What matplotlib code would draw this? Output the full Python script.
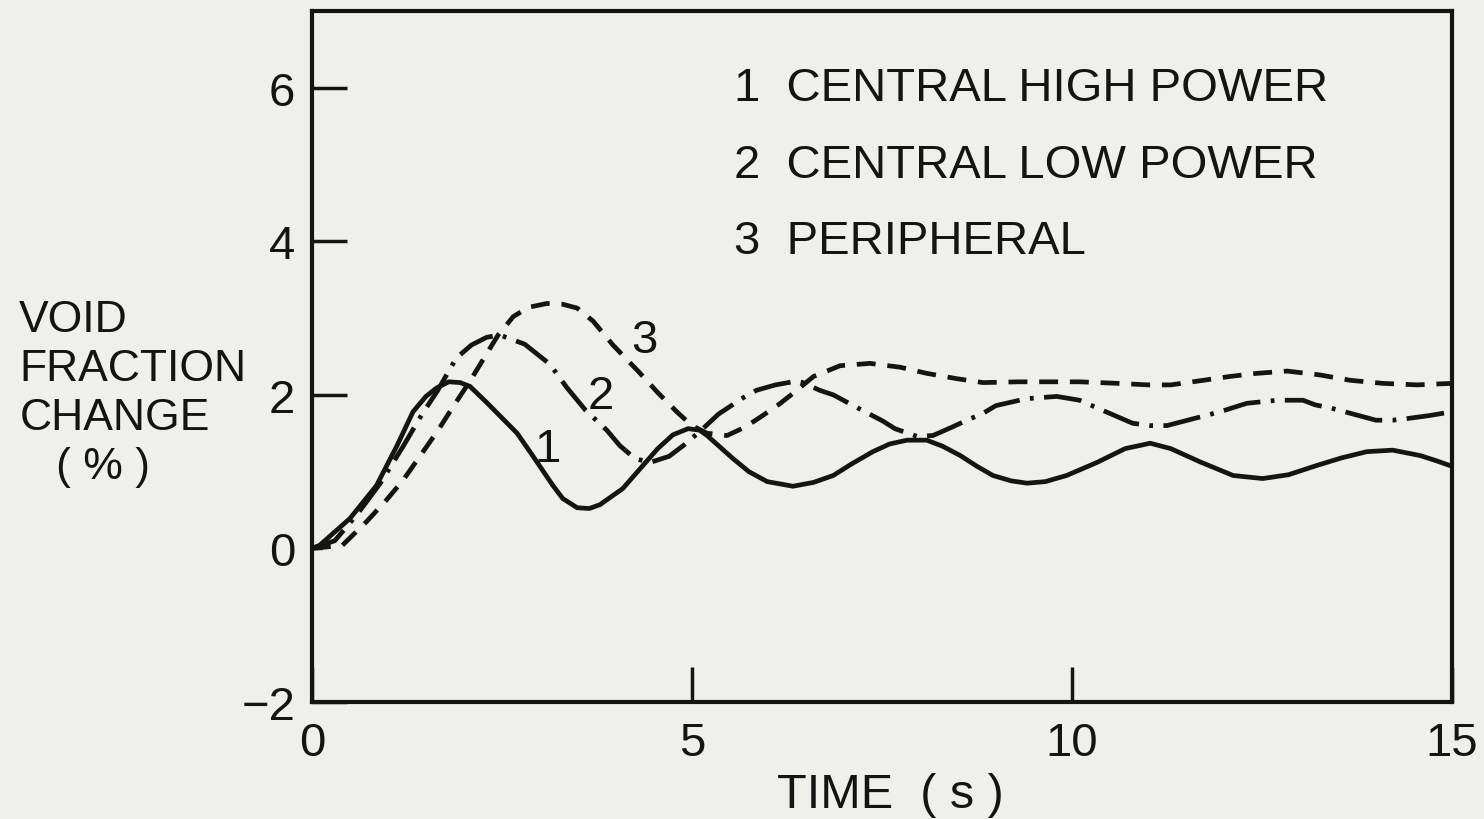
#! usr/bin/env python3
import numpy as np
import matplotlib.pyplot as plt

# curve 1 - central high power (solid)
t1 = [0, 0.1, 0.5, 0.85, 1.12, 1.33, 1.5, 1.64, 1.8, 1.95, 2.08, 2.3, 2.5, 2.7, 2.91,
      3.17, 3.3, 3.49, 3.65, 3.79, 4.09, 4.32, 4.55, 4.75, 4.95, 5.1, 5.2, 5.54, 5.75,
      5.99, 6.33, 6.6, 6.86, 7.1, 7.38, 7.6, 7.83, 8.09, 8.3, 8.53, 8.75, 8.96, 9.2,
      9.41, 9.65, 9.93, 10.33, 10.7, 11.03, 11.3, 11.68, 12.12, 12.51, 12.85, 13.22,
      13.55, 13.88, 14.22, 14.58, 14.8, 15.0]
v1 = [0, 0.04, 0.39, 0.82, 1.34, 1.78, 1.98, 2.09, 2.17, 2.16, 2.11, 1.9, 1.7, 1.5, 1.2,
      0.82, 0.65, 0.53, 0.52, 0.57, 0.78, 1.04, 1.3, 1.48, 1.56, 1.54, 1.47, 1.17, 1.0,
      0.87, 0.81, 0.86, 0.95, 1.1, 1.26, 1.36, 1.41, 1.41, 1.33, 1.21, 1.07, 0.95, 0.88,
      0.85, 0.87, 0.95, 1.12, 1.3, 1.37, 1.3, 1.13, 0.95, 0.91, 0.96, 1.08,
      1.18, 1.26, 1.28, 1.21, 1.14, 1.07]

# curve 2 - central low power (dash-dot)
t2 = [0, 0.3, 0.6, 0.9, 1.2, 1.45, 1.65, 1.9, 2.1, 2.3, 2.47, 2.8, 3.13, 3.35, 3.6,
      3.88, 4.05, 4.25, 4.45, 4.7, 4.9, 5.1, 5.35, 5.67, 5.85, 6.1, 6.38, 6.46, 6.68,
      6.86, 7.2, 7.51, 7.67, 7.96, 8.17, 8.4, 8.62, 8.83, 9.0, 9.4, 9.8, 10.1, 10.4,
      10.8, 11.03, 11.25, 11.6, 11.95, 12.14, 12.3, 12.7, 13.04, 13.2, 13.4, 13.7,
      14.0, 14.22, 14.4, 14.7, 15.0]
v2 = [0, 0.1, 0.45, 0.85, 1.33, 1.75, 2.05, 2.48, 2.65, 2.75, 2.78, 2.66, 2.4, 2.1, 1.8,
      1.54, 1.34, 1.17, 1.12, 1.2, 1.35, 1.52, 1.75, 1.96, 2.06, 2.13, 2.18, 2.16, 2.06,
      2.0, 1.82, 1.66, 1.56, 1.46, 1.47, 1.57, 1.67, 1.76, 1.86, 1.95, 1.98, 1.93, 1.8,
      1.63, 1.6, 1.6, 1.69, 1.78, 1.84, 1.89, 1.93, 1.93, 1.87, 1.83, 1.75,
      1.67, 1.67, 1.69, 1.73, 1.78]

# curve 3 - peripheral (dashed)
t3 = [0, 0.4, 0.72, 0.98, 1.2, 1.42, 1.66, 1.86, 2.08, 2.24, 2.45, 2.65, 2.85, 3.09,
      3.3, 3.49, 3.7, 3.96, 4.3, 4.55, 4.8, 5.0, 5.2, 5.46, 5.7, 5.93, 6.15, 6.33, 6.6,
      6.95, 7.34, 7.74, 8.09, 8.49, 8.83, 9.3, 9.7, 10.1, 10.6, 11.0, 11.3, 11.73,
      12.08, 12.43, 12.83, 13.26, 13.66, 14.09, 14.54, 15.0]
v3 = [0, 0.04, 0.35, 0.63, 0.89, 1.2, 1.54, 1.85, 2.18, 2.44, 2.78, 3.02, 3.14, 3.19,
      3.18, 3.13, 2.96, 2.65, 2.3, 2.03, 1.78, 1.6, 1.5, 1.47, 1.58, 1.73, 1.88, 2.02, 2.24,
      2.38, 2.41, 2.36, 2.28, 2.21, 2.16, 2.17, 2.17, 2.17, 2.15, 2.13, 2.13, 2.19,
      2.24, 2.28, 2.31, 2.26, 2.19, 2.15, 2.13, 2.15]

legend_lines = ['1  CENTRAL HIGH POWER', '2  CENTRAL LOW POWER', '3  PERIPHERAL']

ink = '#141414'
paper = '#efefec'
fnt = ['Liberation Sans', 'DejaVu Sans']

plt.rcParams['font.family'] = fnt

fig = plt.figure(figsize=(14.84, 8.2), dpi=100, facecolor=paper)
ax = fig.add_axes([0.2102, 0.1427, 0.7682, 0.8427], facecolor=paper)

ax.plot(t1, v1, color=ink, lw=3.4, solid_joinstyle='round')
ax.plot(t2, v2, color=ink, lw=3.4, dashes=(8, 2.2, 0.8, 2.2))
ax.plot(t3, v3, color=ink, lw=3.4, dashes=(4, 2.5))

# curve numbers
ax.text(3.1, 1.3, '1', fontsize=34, color=ink, ha='center', va='center')
ax.text(3.8, 1.98, '2', fontsize=34, color=ink, ha='center', va='center')
ax.text(4.38, 2.71, '3', fontsize=34, color=ink, ha='center', va='center')

for i, s in enumerate(legend_lines):
    ax.text(5.55, 6.0 - i * 1.0, s, fontsize=34, color=ink, ha='left', va='center')

ax.set_xlim(0, 15)
ax.set_ylim(-2, 7)
ax.set_xticks([0, 5, 10, 15])
ax.set_xticklabels(['0', '5', '10', '15'])
ax.set_yticks([-2, 0, 2, 4, 6])
ax.set_yticklabels(['\u22122', '0', '2', '4', '6'])
ax.tick_params(direction='in', length=25, width=2.5, color=ink, labelsize=34,
               labelcolor=ink)
ax.tick_params(axis='y', pad=12)
ax.tick_params(axis='x', pad=14)
ax.yaxis.get_major_ticks()[1].tick1line.set_markersize(7)

for sp in ax.spines.values():
    sp.set_linewidth(3)
    sp.set_color(ink)

fig.text(0.60, 0.03, 'TIME  ( s )', fontsize=35, color=ink, ha='center', va='center')
fig.text(0.013, 0.634, 'VOID\nFRACTION\nCHANGE\n   ( % )', fontsize=32, color=ink,
         ha='left', va='top', linespacing=1.25)

fig.savefig('out.png', dpi=100, facecolor=paper)
